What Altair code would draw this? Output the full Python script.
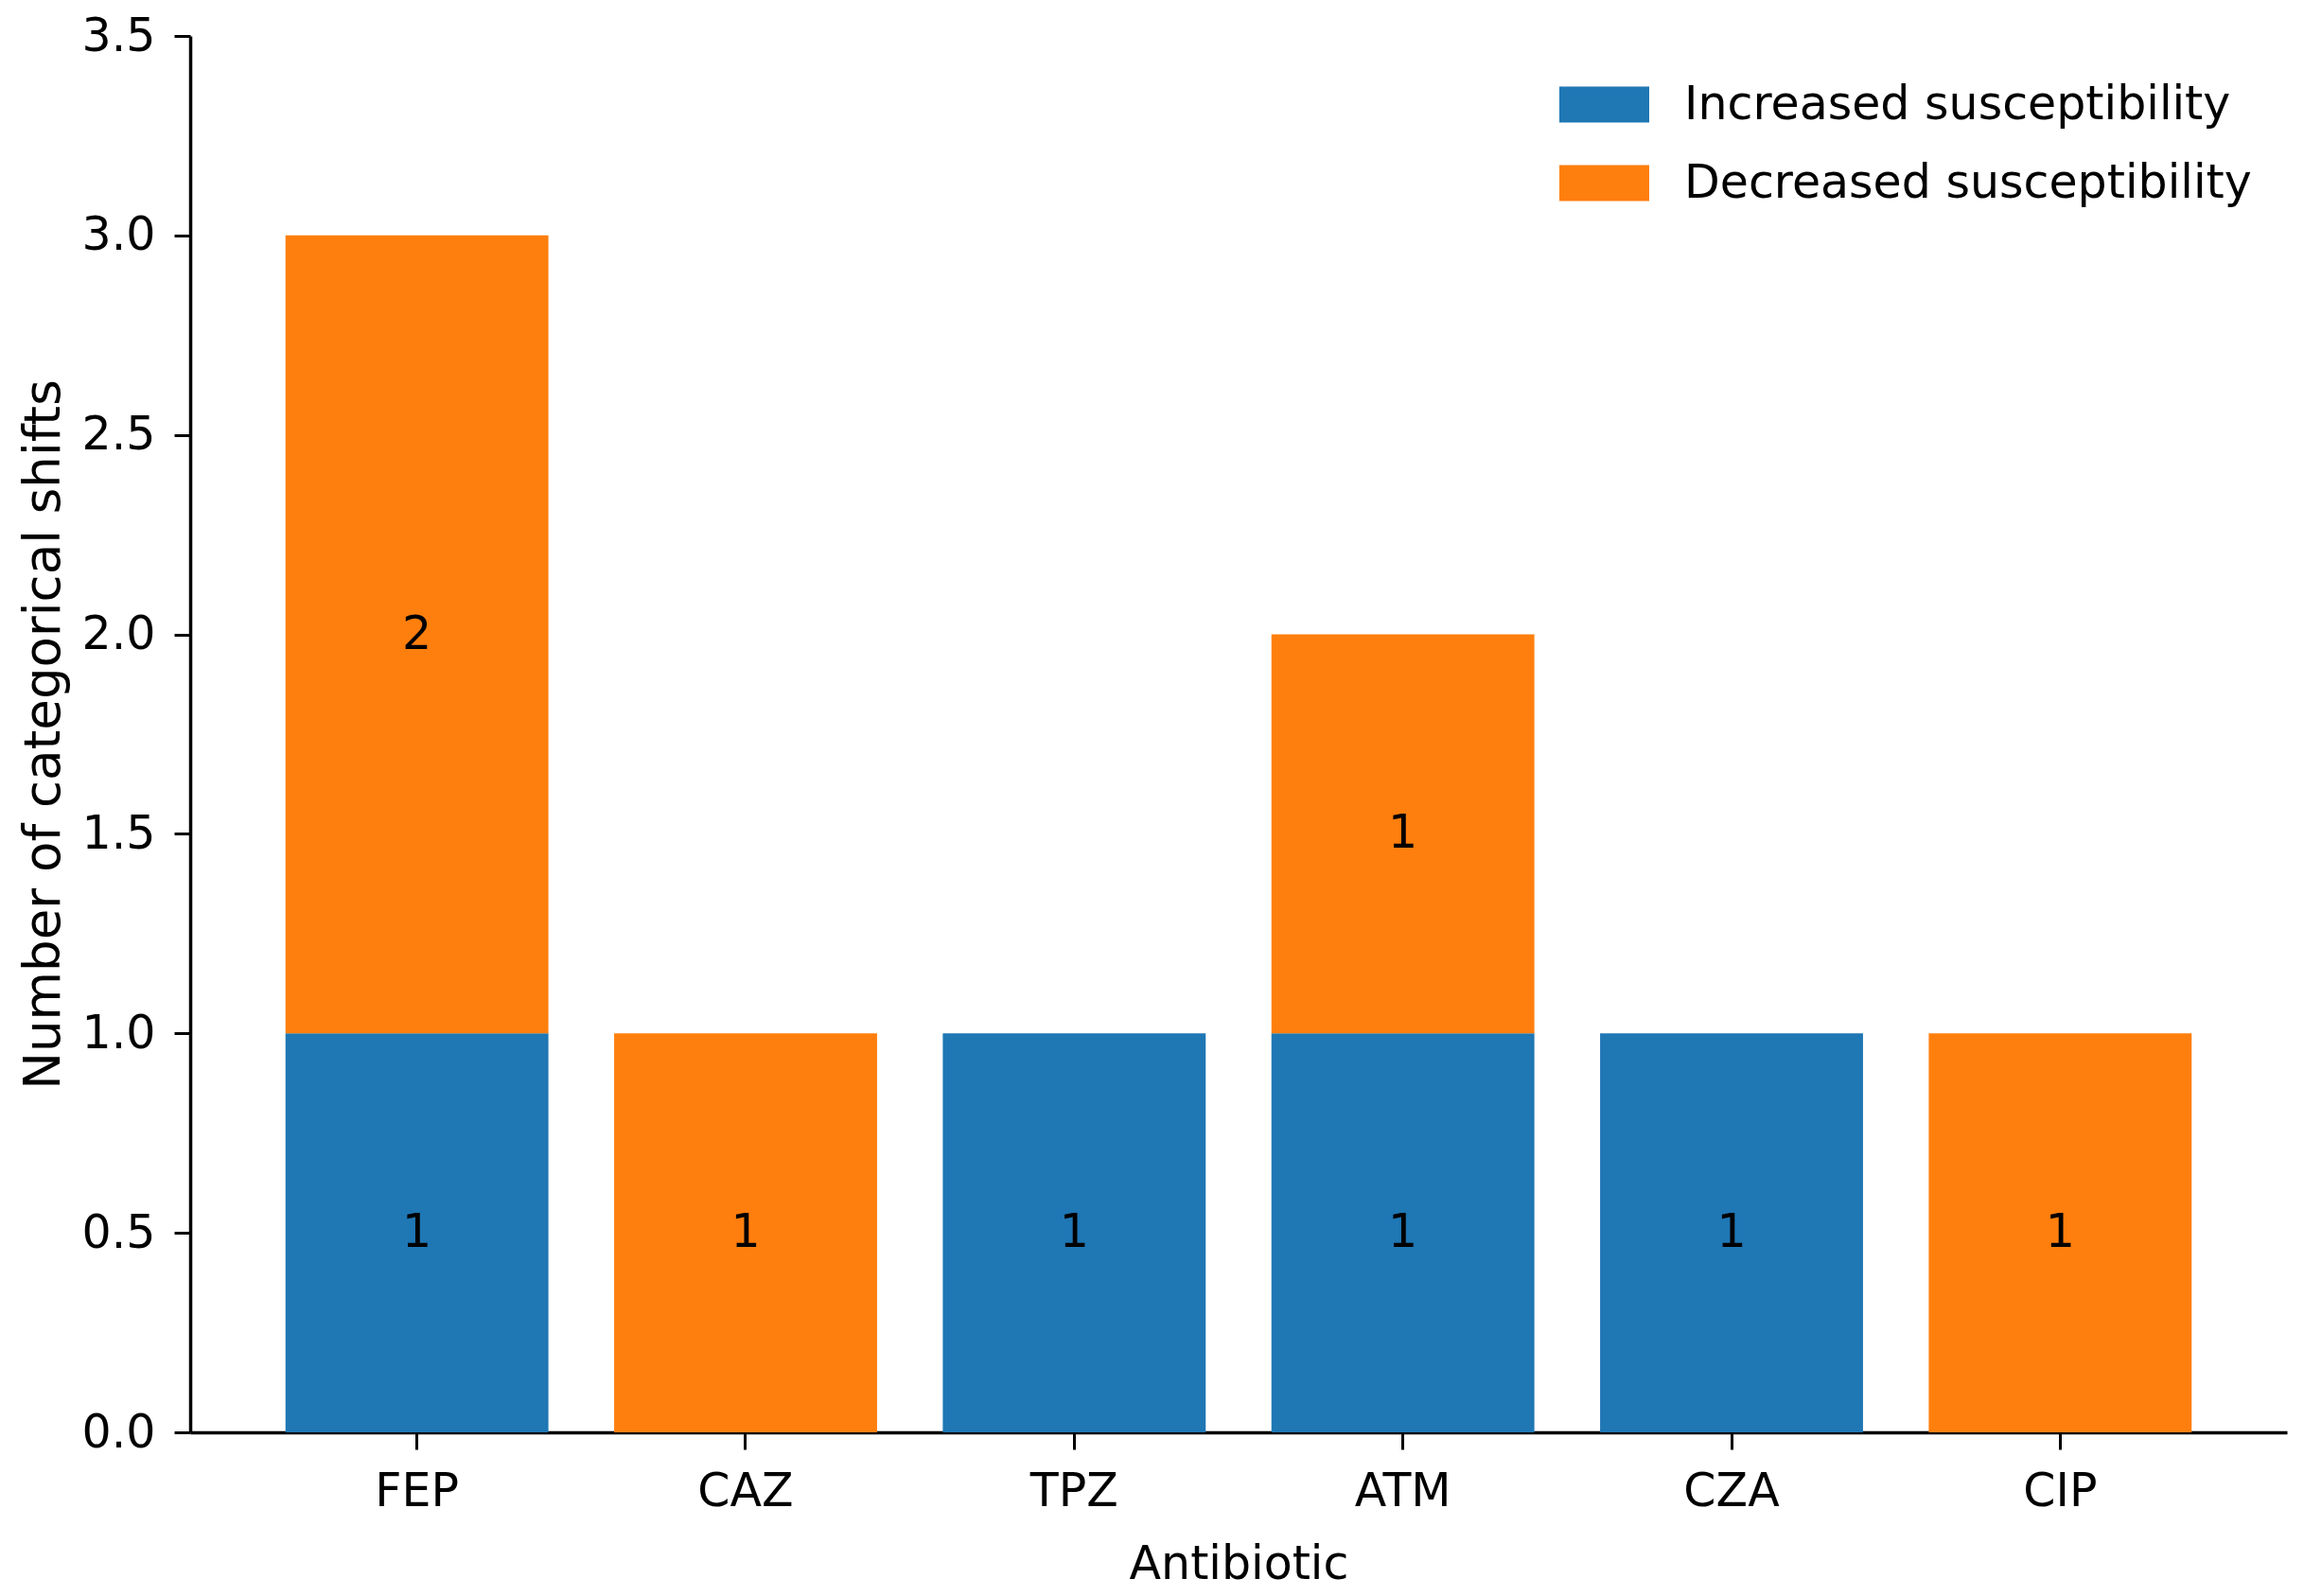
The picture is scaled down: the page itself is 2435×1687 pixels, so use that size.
import altair as alt
import pandas as pd

antibiotics = ["FEP", "CAZ", "TPZ", "ATM", "CZA", "CIP"]
increased = [1, 0, 1, 1, 1, 0]
decreased = [2, 1, 0, 1, 0, 1]
series = ["Increased susceptibility", "Decreased susceptibility"]
colors = ["#1f77b4", "#ff7f0e"]
y_ticks = [0.0, 0.5, 1.0, 1.5, 2.0, 2.5, 3.0, 3.5]

rows = []
for i, ab in enumerate(antibiotics):
    base = 0
    for k, vals in enumerate([increased, decreased]):
        v = vals[i]
        rows.append({
            "Antibiotic": ab,
            "Series": series[k],
            "ord": k,
            "value": v,
            "mid": base + v / 2,
            "label": str(v) if v > 0 else "",
        })
        base += v
df = pd.DataFrame(rows)

FONT = "DejaVu Sans"
FS = 49

x_enc = alt.X(
    "Antibiotic:N",
    sort=antibiotics,
    scale=alt.Scale(paddingInner=0.2, paddingOuter=0.29),
    axis=alt.Axis(
        title="Antibiotic",
        labelAngle=0,
        labelFont=FONT,
        labelFontSize=FS,
        labelColor="black",
        labelBaseline="alphabetic",
        labelPadding=59,
        tickSize=18,
        tickWidth=3,
        tickColor="black",
        domainColor="black",
        domainWidth=3.5,
        titleFont=FONT,
        titleFontSize=FS,
        titleFontWeight="normal",
        titleColor="black",
        titleBaseline="alphabetic",
        titleY=154,
    ),
)

bars = alt.Chart(df).mark_bar().encode(
    x=x_enc,
    y=alt.Y(
        "value:Q",
        stack="zero",
        scale=alt.Scale(domain=[0, 3.5], nice=False),
        axis=alt.Axis(
            title="Number of categorical shifts",
            values=y_ticks,
            format=".1f",
            grid=False,
            labelFont=FONT,
            labelFontSize=FS,
            labelColor="black",
            labelPadding=20,
            tickSize=17,
            tickWidth=3,
            tickColor="black",
            domainColor="black",
            domainWidth=3.5,
            titleFont=FONT,
            titleFontSize=53,
            titleFontWeight="normal",
            titleColor="black",
            titleBaseline="alphabetic",
            titleX=-139,
            titleY=738,
        ),
    ),
    color=alt.Color(
        "Series:N",
        scale=alt.Scale(domain=series, range=colors),
        legend=alt.Legend(
            title=None,
            orient="none",
            legendX=1470,
            legendY=48,
            padding=0,
            symbolType="M-2.5,-1H2.5V1H-2.5Z",
            symbolSize=1444,
            symbolStrokeWidth=0,
            symbolOpacity=1,
            labelFont=FONT,
            labelFontSize=FS,
            labelColor="black",
            labelOffset=60,
            rowPadding=33,
            labelLimit=1000,
        ),
    ),
    order=alt.Order("ord:Q", sort="ascending"),
)

labels = alt.Chart(df).mark_text(
    font=FONT, fontSize=FS, color="black", baseline="middle", align="center"
).encode(
    x=alt.X("Antibiotic:N", sort=antibiotics),
    y=alt.Y("mid:Q"),
    text="label:N",
)

chart = (
    alt.layer(bars, labels)
    .properties(
        width=2216,
        height=1476,
        autosize=alt.AutoSizeParams(type="none"),
        padding={"left": 193, "top": 30, "right": 10, "bottom": 172},
        background="white",
    )
    .configure_view(stroke=None)
)

chart.save("out.html", embed_options={"renderer": "svg", "actions": False})
